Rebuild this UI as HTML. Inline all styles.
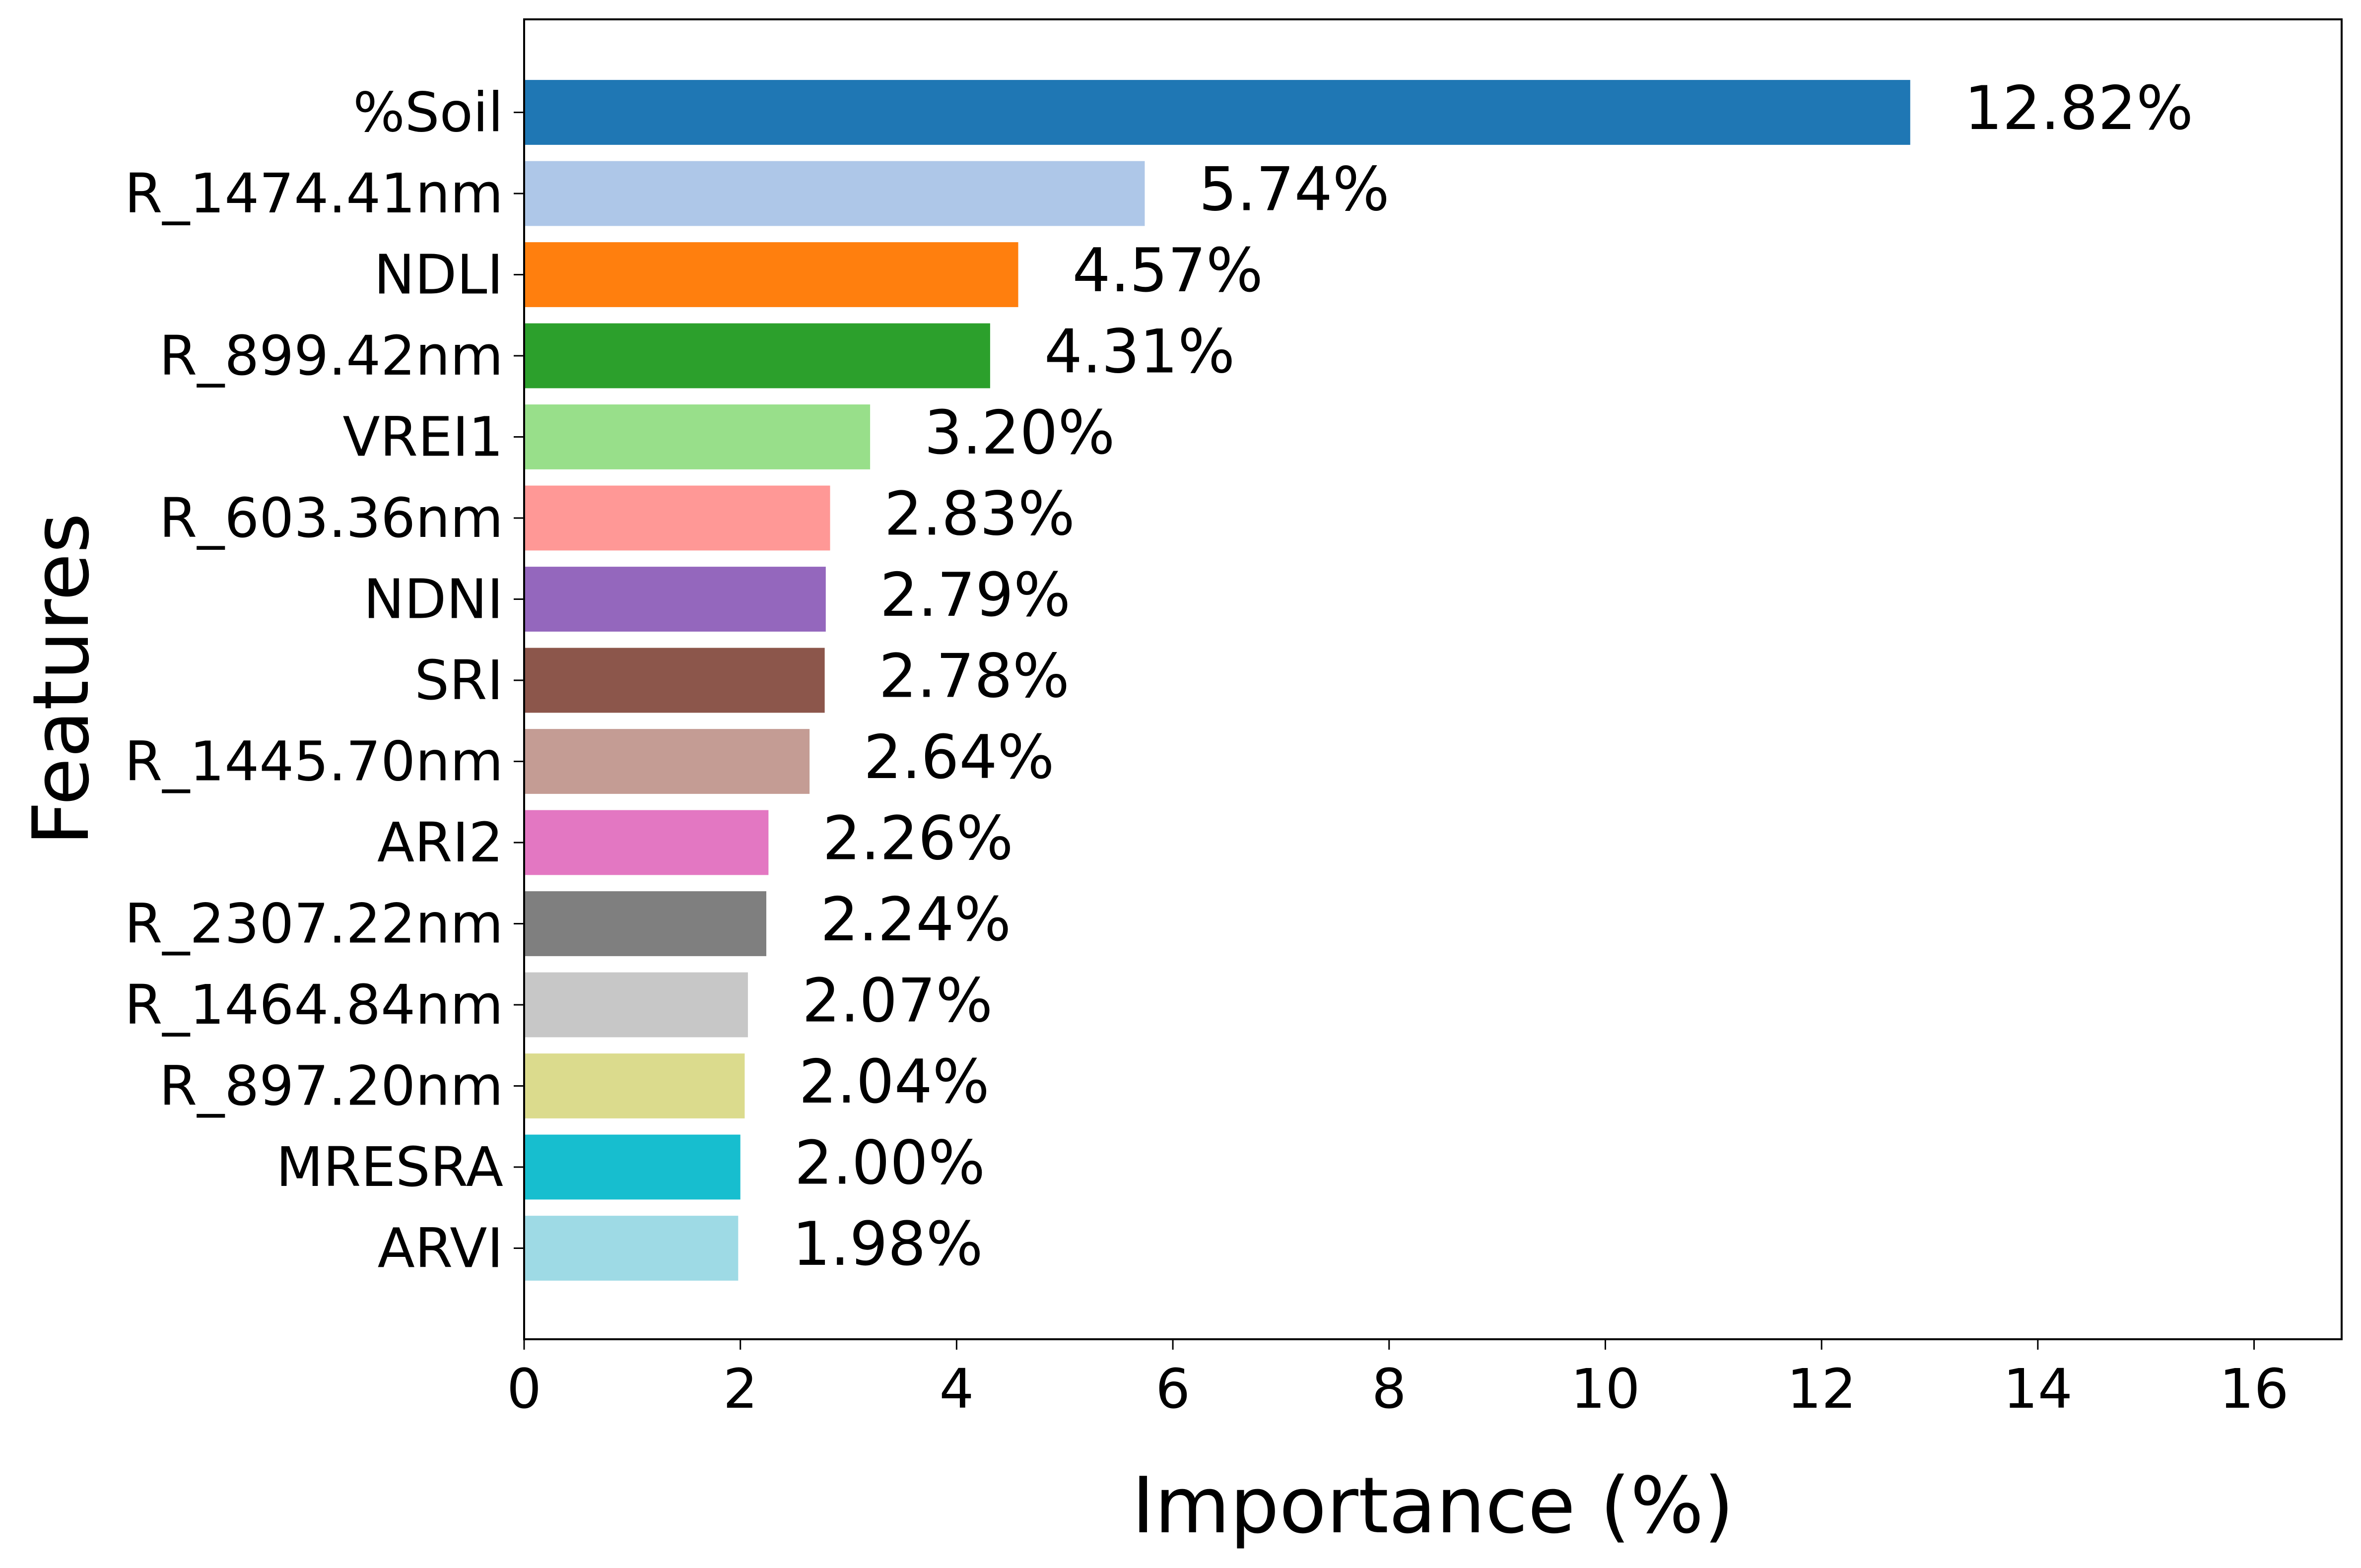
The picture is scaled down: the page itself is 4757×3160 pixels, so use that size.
<!DOCTYPE html>
<html><head><meta charset="utf-8"><style>
html,body{margin:0;padding:0;background:#fff;}
svg{display:block;font-family:"DejaVu Sans","Liberation Sans",sans-serif;}
</style></head><body>
<svg id="chart" width="4757" height="3160" viewBox="0 0 4757 3160" xmlns="http://www.w3.org/2000/svg">
<rect width="4757" height="3160" fill="#fff"/>
<g id="bars"></g>
<g id="labels"></g>
<g id="yticks"></g>
<g id="xticks"></g>
<rect x="1056" y="39" width="3662" height="2660" fill="none" stroke="#000" stroke-width="4"/>
<text x="2887" y="3088" font-size="156" text-anchor="middle">Importance (%)</text>
<text transform="translate(177,1369) rotate(-90)" font-size="156" text-anchor="middle">Features</text>
</svg>
<script>
const features = ["%Soil","R_1474.41nm","NDLI","R_899.42nm","VREI1","R_603.36nm","NDNI","SRI","R_1445.70nm","ARI2","R_2307.22nm","R_1464.84nm","R_897.20nm","MRESRA","ARVI"];
const importance = [12.82,5.74,4.57,4.31,3.20,2.83,2.79,2.78,2.64,2.26,2.24,2.07,2.04,2.00,1.98];
const xTicks = [0,2,4,6,8,10,12,14,16];
const colors = ["#1f77b4","#aec7e8","#ff7f0e","#2ca02c","#98df8a","#ff9896","#9467bd","#8c564b","#c49c94","#e377c2","#7f7f7f","#c7c7c7","#dbdb8d","#17becf","#9edae5"];

const NS="http://www.w3.org/2000/svg";
const L=1056,R=4718,T=39,B=2699;
const xmax=16.81;
const xs=v=>L+(v/xmax)*(R-L);
const y0=226.5, step=163.5;
const ys=i=>y0+i*step;
const bh=0.8*step;
function mk(tag,attrs,parent){const e=document.createElementNS(NS,tag);for(const k in attrs)e.setAttribute(k,attrs[k]);parent.appendChild(e);return e;}
const gb=document.getElementById('bars'),gl=document.getElementById('labels'),gy=document.getElementById('yticks'),gx=document.getElementById('xticks');
features.forEach((f,i)=>{
  const r=mk('rect',{x:L,y:ys(i)-bh/2,width:xs(importance[i])-L,height:bh,fill:colors[i]},gb);
  
  
  const t=mk('text',{x:xs(importance[i]+0.5),y:ys(i)-8,'font-size':121,'dominant-baseline':'central'},gl);
  t.textContent=importance[i].toFixed(2)+'%';
  
  
  const tk=mk('line',{x1:L-21,x2:L,y1:ys(i),y2:ys(i),stroke:'#000','stroke-width':3},gy);
  
  
  const tl=mk('text',{x:L-42,y:ys(i),'font-size':110,'text-anchor':'end','dominant-baseline':'central'},gy);
  tl.textContent=f;
  
  
});
xTicks.forEach(v=>{
  const tk=mk('line',{x1:xs(v),x2:xs(v),y1:B,y2:B+21,stroke:'#000','stroke-width':3},gx);
  
  
  const tl=mk('text',{x:xs(v),y:B+138,'font-size':110,'text-anchor':'middle'},gx);
  tl.textContent=v;
  
  
});
</script>
</body></html>
